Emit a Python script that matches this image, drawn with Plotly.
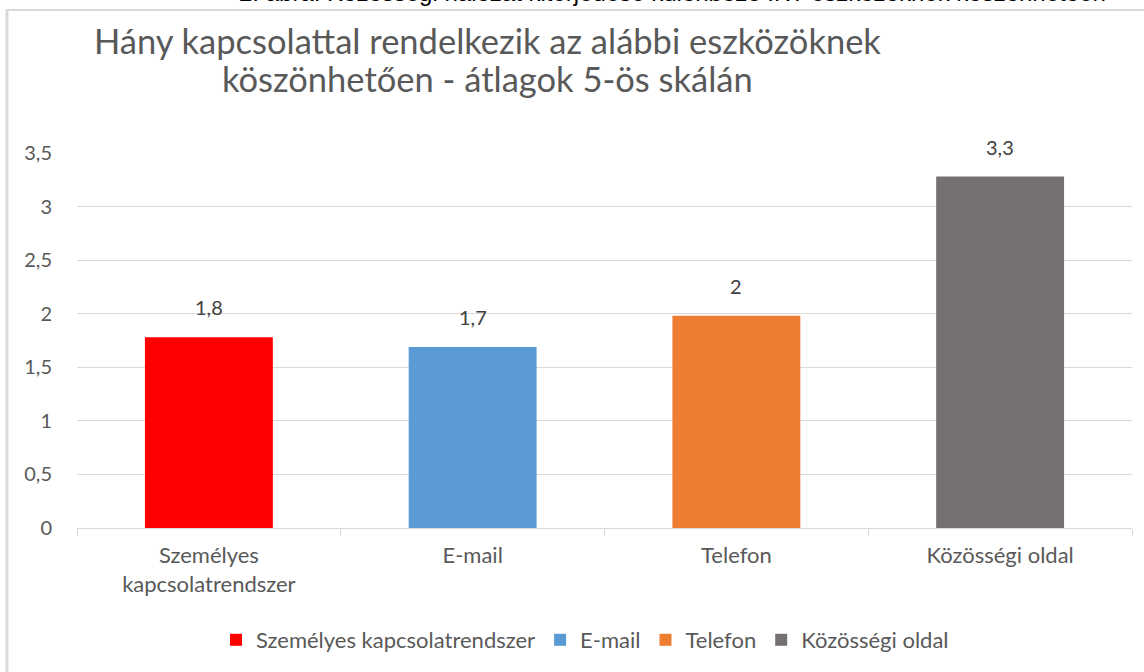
import plotly.graph_objects as go

categories = ["Személyes kapcsolatrendszer", "E-mail", "Telefon", "Közösségi oldal"]
tick_labels = ["Személyes<br>kapcsolatrendszer", "E-mail", "Telefon", "Közösségi oldal"]
values = [1.78, 1.69, 1.98, 3.28]
value_labels = ["1,8", "1,7", "2", "3,3"]
colors = ["#FF0000", "#5B9BD5", "#ED7D31", "#767171"]
title_lines = ["Hány kapcsolattal rendelkezik az alábbi eszközöknek",
               "köszönhetően - átlagok 5-ös skálán"]
caption = "2. ábra: Közösségi hálózat kiterjedése különböző IKT eszközöknek köszönhetően"

W, H = 1144, 672
L, R, T, B = 77, 12, 153, 143
pw, ph = W - L - R, H - T - B

def px_x(p):
    return (p - L) / pw

def px_y(p):
    return (H - B - p) / ph

FONT = "Lato, Liberation Sans, sans-serif"
GRAY = "#595959"

fig = go.Figure()
for cat, tl, v, c in zip(categories, tick_labels, values, colors):
    fig.add_trace(go.Bar(x=[tl], y=[v], name=cat, marker=dict(color=c, line=dict(width=0)),
                         width=0.485))

for tl, v, lab in zip(tick_labels, values, value_labels):
    fig.add_annotation(x=tl, y=v, text=lab, showarrow=False, yanchor="bottom", yshift=16,
                       font=dict(family=FONT, size=20, color="#404040"))

# title (two centred lines)
for line, yc in zip(title_lines, [40, 78]):
    fig.add_annotation(xref="paper", yref="paper", x=px_x(487), y=px_y(yc), text=line,
                       showarrow=False, xanchor="center", yanchor="middle",
                       font=dict(family=FONT, size=34.5, color=GRAY))

# clipped caption at the very top
fig.add_annotation(xref="paper", yref="paper", x=px_x(672), y=px_y(8), yanchor="bottom",
                   xanchor="center", showarrow=False, text=caption,
                   font=dict(family="Liberation Sans, Arial, sans-serif", size=24, color="#000000"))

# chart border
fig.add_shape(type="line", xref="paper", yref="paper", x0=px_x(7), x1=px_x(7), y0=px_y(9), y1=px_y(700),
              line=dict(color="#D9D9D9", width=3))
fig.add_shape(type="line", xref="paper", yref="paper", x0=px_x(6), x1=px_x(1200), y0=px_y(9.5), y1=px_y(9.5),
              line=dict(color="#D9D9D9", width=2))

fig.update_layout(
    width=W, height=H,
    margin=dict(l=L, r=R, t=T, b=B),
    paper_bgcolor="white", plot_bgcolor="white",
    barmode="overlay",
    separators=", ",
    font=dict(family=FONT, size=20, color=GRAY),
    showlegend=True,
    legend=dict(orientation="h", x=px_x(585), xanchor="center", y=px_y(640), yanchor="middle",
                font=dict(family=FONT, size=22, color=GRAY), itemwidth=30, traceorder="normal"),
    xaxis=dict(type="category", tickson="boundaries", ticks="outside", ticklen=7,
               tickcolor="#D9D9D9", showline=True, linecolor="#D9D9D9", linewidth=1,
               showgrid=False, tickfont=dict(family=FONT, size=22, color=GRAY),
               ticklabelstandoff=8, range=[-0.5, 3.5]),
    yaxis=dict(range=[0, 3.5], dtick=0.5, showgrid=True, gridcolor="#D9D9D9", gridwidth=1,
               zeroline=False, showline=False, ticks="", ticklabelstandoff=24,
               tickfont=dict(family=FONT, size=20, color=GRAY)),
)

fig.write_html("out.html", config={"displayModeBar": False},
               post_script="document.body.style.margin='0px';")
